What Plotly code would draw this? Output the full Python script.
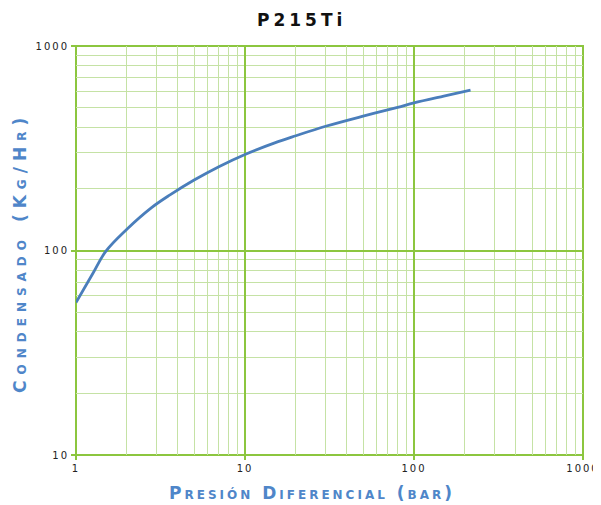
import plotly.graph_objects as go

presion = [1, 1.25, 1.5, 2, 2.8, 3.6, 5, 7, 10, 15, 20, 30, 50, 80, 100, 150, 216]
condensado = [55.7, 76.5, 99, 127, 162, 187, 221, 257, 295, 336, 364, 405, 454, 501, 527, 569, 608]

x_ticks = [1, 10, 100, 1000]
y_ticks = [10, 100, 1000]

title_text = "P215Ti"
x_title = "Presión Diferencial (bar)"
y_title = "Condensado (Kg/Hr)"

major = "#8CC63F"
minor_c = "#C5E2A5"
blue = "#4A7EBB"
title_blue = "#4F86C9"
font = "DejaVu Sans"

# the page body has an 8px margin; plot area sits at x 76..583, y 46..455 of the window
PAGE_OFF = 8
L, R, T, B = 76, 583, 46, 455


def spaced(txt, px):
    return "<span style='letter-spacing:%dpx'>%s</span>" % (px, txt)


def px_x(p):
    return (p - L) / (R - L)


def px_y(p):
    return (B - p) / (B - T)


fig = go.Figure()
fig.add_trace(go.Scatter(
    x=presion, y=condensado, mode="lines",
    line=dict(color=blue, width=2.8, shape="spline", smoothing=1.0),
    showlegend=False, hoverinfo="skip",
))

axis_common = dict(
    type="log", automargin=False,
    showgrid=True, gridcolor=major, gridwidth=2,
    showline=False, zeroline=False,
    ticks="outside", ticklen=4, tickcolor=major, tickwidth=2,
    tickfont=dict(family=font, size=10, color="#222222"),
    minor=dict(dtick="D1", showgrid=True, gridcolor=minor_c, gridwidth=1, ticks=""),
)

fig.update_xaxes(
    range=[0, 3], tickvals=x_ticks, ticktext=[spaced(str(v), 2) for v in x_ticks],
    **axis_common,
)
fig.update_yaxes(
    range=[1, 3], tickvals=y_ticks, ticktext=[spaced(str(v), 2) for v in y_ticks],
    **axis_common,
)

fig.update_layout(
    width=601 - PAGE_OFF, height=505 - PAGE_OFF,
    margin=dict(l=L - PAGE_OFF, r=601 - R, t=T - PAGE_OFF, b=505 - B),
    paper_bgcolor="white", plot_bgcolor="white",
    font=dict(family=font),
    annotations=[
        dict(text="<b>" + spaced(title_text, 4) + "</b>", xref="paper", yref="paper",
             x=px_x(301), y=px_y(20),
             xanchor="center", yanchor="middle", showarrow=False,
             font=dict(family=font, size=17, color="#111111")),
        dict(text="<b>" + spaced(x_title, 3) + "</b>", xref="paper", yref="paper",
             x=px_x(312), y=px_y(493),
             xanchor="center", yanchor="middle", showarrow=False,
             font=dict(family=font, size=17, color=title_blue, variant="small-caps")),
        dict(text="<b>" + spaced(y_title, 6) + "</b>", xref="paper", yref="paper",
             x=px_x(20), y=px_y(253),
             xanchor="center", yanchor="middle", showarrow=False, textangle=-90,
             font=dict(family=font, size=17, color=title_blue, variant="small-caps")),
    ],
)
fig.add_shape(type="rect", xref="paper", yref="paper", x0=0, y0=0, x1=1, y1=1,
              line=dict(color=major, width=2), layer="below")

fig.write_html("out.html")
